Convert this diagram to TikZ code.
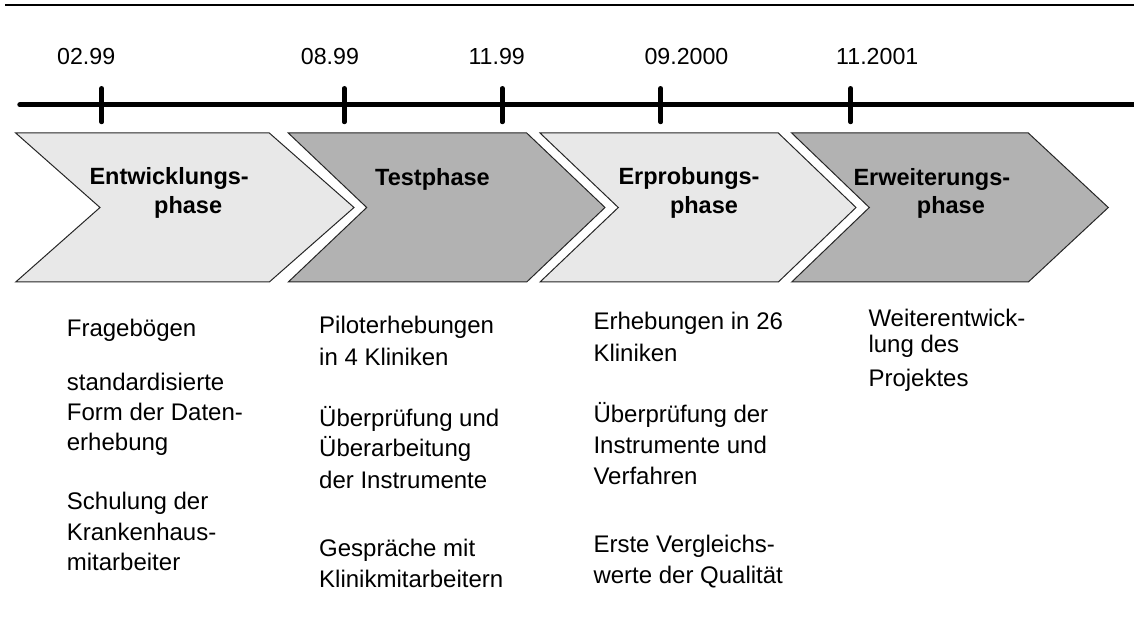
\documentclass[tikz,border=0pt]{standalone}
\usepackage{fontspec}
\setmainfont{Liberation Sans}
\definecolor{phaselight}{HTML}{E8E8E8}
\definecolor{phasedark}{HTML}{B2B2B2}
\definecolor{outl}{HTML}{262626}
\tikzset{
  chev/.style={draw=outl, line width=1pt, line join=miter},
  lightchev/.style={chev, fill=phaselight},
  darkchev/.style={chev, fill=phasedark},
  datelbl/.style={font=\fontsize{23.2}{28}\selectfont, anchor=base west, inner sep=0pt},
  phaselbl/.style={font=\fontsize{23.5}{28}\selectfont\bfseries, anchor=base west, inner sep=0pt},
  bodytxt/.style={font=\fontsize{24}{30}\selectfont, anchor=base west, inner sep=0pt},
  tick/.style={line width=4.5pt, line cap=round},
}
\begin{document}
\begin{tikzpicture}[x=1pt, y=-1pt]
\useasboundingbox (0,0) rectangle (1134,617);
% top rule
\coordinate (ruleL) at (5,5);
\coordinate (ruleR) at (1134,5);
\draw[line width=2.2pt] (ruleL) -- (ruleR);
% timeline
\coordinate (tlL) at (19.8,104.8);
\coordinate (tlR) at (1140,104.8);
\draw[line width=5pt, line cap=round] (tlL) -- (tlR);
% ticks
\foreach \x/\n in {101.7/a, 344.3/b, 502.3/c, 660.7/d, 850.7/e}{
  \coordinate (t\n top) at (\x,88.3);
  \coordinate (t\n bot) at (\x,122);
  \draw[tick] (t\n top) -- (t\n bot);
}
% dates
\node[datelbl] (d1) at (57,64.5) {02.99};
\node[datelbl] (d2) at (300.7,64.5) {08.99};
\node[datelbl] (d3) at (468.3,64.5) {11.99};
\node[datelbl] (d4) at (644.3,64.5) {09.2000};
\node[datelbl] (d5) at (836,64.5) {11.2001};
% chevrons
\draw[lightchev] (15.7,133) -- (269.3,133) -- (354,207.5) -- (269.3,282) -- (15.7,282) -- (100,207.5) -- cycle;
\draw[darkchev] (288.3,133) -- (526.7,133) -- (605,207.5) -- (526.7,282) -- (288.3,282) -- (366.7,207.5) -- cycle;
\draw[lightchev] (540,133) -- (778.3,133) -- (856,207.5) -- (778.3,282) -- (540,282) -- (618.3,207.5) -- cycle;
\draw[darkchev] (791.7,133) -- (1028.3,133) -- (1108.3,207.5) -- (1028.3,282) -- (791.7,282) -- (869.3,207.5) -- cycle;
% phase labels
\node[phaselbl] (p1a) at (89.3,185) {Entwicklungs-};
\node[phaselbl] (p1b) at (154,214) {phase};
\node[phaselbl] (p2a) at (375,186) {Testphase};
\node[phaselbl] (p3a) at (618.3,185) {Erprobungs-};
\node[phaselbl] (p3b) at (669.8,213.5) {phase};
\node[phaselbl] (p4a) at (853.3,186) {Erweiterungs-};
\node[phaselbl] (p4b) at (916.7,214) {phase};
% column 1
\node[bodytxt] (c1a) at (66.7,336.7) {Fragebögen};
\node[bodytxt] (c1b) at (66.7,390) {standardisierte};
\node[bodytxt] (c1c) at (66.7,420.7) {Form der Daten-};
\node[bodytxt] (c1d) at (66.7,450.3) {erhebung};
\node[bodytxt] (c1e) at (66.7,509.3) {Schulung der};
\node[bodytxt] (c1f) at (66.7,540) {Krankenhaus-};
\node[bodytxt] (c1g) at (66.7,570.7) {mitarbeiter};
% column 2
\node[bodytxt] (c2a) at (319,333.3) {Piloterhebungen};
\node[bodytxt] (c2b) at (319,365) {in 4 Kliniken};
\node[bodytxt] (c2c) at (319,426) {Überprüfung und};
\node[bodytxt] (c2d) at (319,456.7) {Überarbeitung};
\node[bodytxt] (c2e) at (319,488.3) {der Instrumente};
\node[bodytxt] (c2f) at (319,556) {Gespräche mit};
\node[bodytxt] (c2g) at (319,587.3) {Klinikmitarbeitern};
% column 3
\node[bodytxt] (c3a) at (593.3,330) {Erhebungen in 26};
\node[bodytxt] (c3b) at (593.3,361.7) {Kliniken};
\node[bodytxt] (c3c) at (593.3,422.7) {Überprüfung der};
\node[bodytxt] (c3d) at (593.3,453.3) {Instrumente und};
\node[bodytxt] (c3e) at (593.3,484.3) {Verfahren};
\node[bodytxt] (c3f) at (593.3,552.3) {Erste Vergleichs-};
\node[bodytxt] (c3g) at (593.3,583.3) {werte der Qualität};
% column 4
\node[bodytxt] (c4a) at (868.3,326.7) {Weiterentwick-};
\node[bodytxt] (c4b) at (868.3,352.3) {lung des};
\node[bodytxt] (c4c) at (868.3,386) {Projektes};
\end{tikzpicture}
\end{document}
